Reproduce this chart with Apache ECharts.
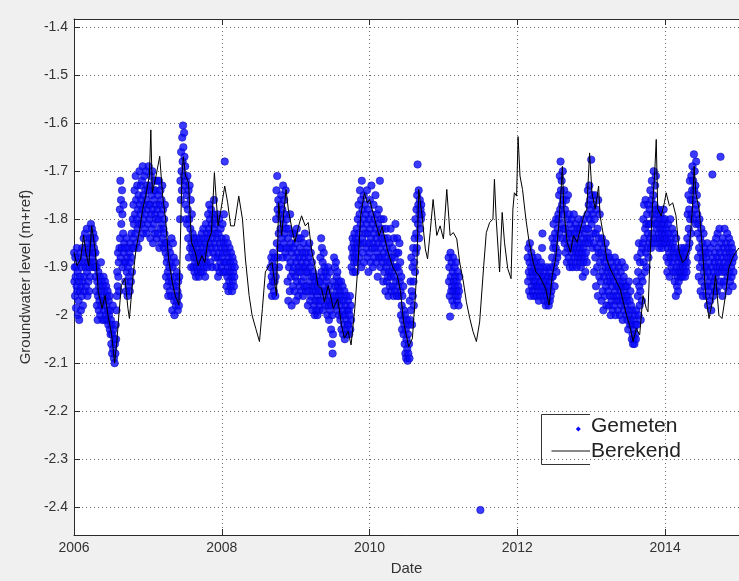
<!DOCTYPE html>
<html>
<head>
<meta charset="utf-8">
<script src="https://cdn.jsdelivr.net/npm/echarts@6/dist/echarts.min.js"></script>
<style>
  html, body { margin: 0; padding: 0; background: #f0f0f0; }
  #chart { width: 739px; height: 581px; }
</style>
</head>
<body>
<div id="chart"></div>
<script>
// Axis ranges and tick labels
const xRange = [2006, 2015];
const xTicks = [2006, 2008, 2010, 2012, 2014];
const yRange = [-2.458, -1.383];
const yTicks = [-1.4, -1.5, -1.6, -1.7, -1.8, -1.9, -2, -2.1, -2.2, -2.3, -2.4];

// Calculated groundwater level (decimal year, m+ref)
const berekend = [
  [2006.00,-1.869],[2006.04,-1.897],[2006.09,-1.883],[2006.13,-1.834],[2006.16,-1.869],[2006.20,-1.897],
  [2006.24,-1.814],[2006.29,-1.869],[2006.33,-1.952],[2006.38,-1.986],[2006.42,-1.959],[2006.46,-2.000],
  [2006.51,-2.041],[2006.55,-2.100],[2006.58,-2.055],[2006.60,-2.014],[2006.64,-1.938],[2006.69,-1.924],
  [2006.73,-1.986],[2006.75,-2.007],[2006.80,-1.917],[2006.84,-1.862],[2006.89,-1.821],[2006.93,-1.779],
  [2006.97,-1.752],[2007.02,-1.710],[2007.04,-1.614],[2007.06,-1.745],[2007.11,-1.710],[2007.16,-1.669],
  [2007.20,-1.752],[2007.24,-1.800],[2007.28,-1.883],[2007.33,-1.931],[2007.37,-1.959],[2007.42,-1.979],
  [2007.46,-1.710],[2007.48,-1.670],[2007.51,-1.710],[2007.55,-1.724],[2007.59,-1.848],[2007.64,-1.869],
  [2007.68,-1.897],[2007.73,-1.876],[2007.77,-1.890],[2007.81,-1.848],[2007.86,-1.828],[2007.90,-1.703],
  [2007.95,-1.814],[2007.99,-1.779],[2008.04,-1.731],[2008.08,-1.766],[2008.12,-1.814],[2008.17,-1.814],
  [2008.23,-1.752],[2008.28,-1.800],[2008.32,-1.883],[2008.37,-1.959],[2008.41,-2.000],[2008.46,-2.028],
  [2008.51,-2.055],[2008.55,-1.986],[2008.59,-1.910],[2008.64,-1.897],[2008.68,-1.890],[2008.74,-1.959],
  [2008.77,-1.766],[2008.81,-1.834],[2008.87,-1.738],[2008.90,-1.779],[2008.95,-1.821],[2008.99,-1.848],
  [2009.04,-1.814],[2009.08,-1.793],[2009.13,-1.814],[2009.17,-1.807],[2009.22,-1.869],[2009.26,-1.897],
  [2009.30,-1.938],[2009.35,-1.945],[2009.39,-1.972],[2009.44,-1.938],[2009.51,-1.986],[2009.57,-1.966],
  [2009.62,-2.021],[2009.66,-2.048],[2009.71,-2.034],[2009.75,-2.062],[2009.80,-1.986],[2009.84,-1.903],
  [2009.88,-1.793],[2009.93,-1.745],[2009.97,-1.766],[2010.00,-1.759],[2010.06,-1.794],[2010.13,-1.835],
  [2010.17,-1.815],[2010.24,-1.863],[2010.31,-1.898],[2010.375,-1.917],[2010.42,-1.952],[2010.46,-2.014],
  [2010.53,-2.066],[2010.58,-2.048],[2010.62,-1.959],[2010.64,-1.903],[2010.665,-1.738],[2010.71,-1.793],
  [2010.755,-1.862],[2010.785,-1.883],[2010.82,-1.828],[2010.86,-1.759],[2010.91,-1.834],[2010.955,-1.814],
  [2011.00,-1.841],[2011.045,-1.738],[2011.09,-1.834],[2011.134,-1.828],[2011.18,-1.841],[2011.22,-1.890],
  [2011.27,-1.931],[2011.31,-1.972],[2011.357,-2.007],[2011.40,-2.034],[2011.446,-2.055],[2011.49,-2.014],
  [2011.545,-1.897],[2011.58,-1.828],[2011.625,-1.807],[2011.67,-1.800],[2011.69,-1.717],[2011.714,-1.800],
  [2011.76,-1.910],[2011.795,-1.786],[2011.826,-1.848],[2011.87,-1.903],[2011.915,-1.924],[2011.94,-1.779],
  [2011.96,-1.745],[2011.99,-1.752],[2012.01,-1.628],[2012.036,-1.710],[2012.07,-1.738],[2012.116,-1.800],
  [2012.16,-1.848],[2012.205,-1.883],[2012.25,-1.910],[2012.295,-1.917],[2012.34,-1.931],[2012.384,-1.945],
  [2012.43,-1.979],[2012.473,-1.917],[2012.518,-1.883],[2012.56,-1.814],[2012.59,-1.745],[2012.61,-1.690],
  [2012.63,-1.779],[2012.674,-1.848],[2012.72,-1.869],[2012.76,-1.834],[2012.808,-1.848],[2012.853,-1.821],
  [2012.90,-1.793],[2012.94,-1.779],[2012.978,-1.662],[2013.01,-1.745],[2013.054,-1.779],[2013.10,-1.731],
  [2013.12,-1.793],[2013.165,-1.834],[2013.21,-1.883],[2013.255,-1.903],[2013.30,-1.917],[2013.344,-1.931],
  [2013.39,-1.945],[2013.433,-1.972],[2013.478,-2.000],[2013.52,-2.021],[2013.567,-2.055],[2013.61,-2.028],
  [2013.656,-2.041],[2013.70,-1.959],[2013.746,-1.986],[2013.768,-1.993],[2013.79,-1.903],[2013.826,-1.779],
  [2013.857,-1.710],[2013.88,-1.634],[2013.90,-1.779],[2013.947,-1.793],[2013.99,-1.766],[2014.014,-1.745],
  [2014.058,-1.772],[2014.103,-1.766],[2014.147,-1.793],[2014.19,-1.869],[2014.237,-1.890],[2014.28,-1.883],
  [2014.326,-1.862],[2014.37,-1.779],[2014.393,-1.690],[2014.415,-1.745],[2014.46,-1.779],[2014.505,-1.862],
  [2014.55,-1.959],[2014.594,-2.007],[2014.64,-1.972],[2014.683,-1.917],[2014.728,-2.000],[2014.77,-2.007],
  [2014.817,-1.959],[2014.86,-1.903],[2014.906,-1.883],[2014.95,-1.870],[2015.00,-1.860]
];

// Measured groundwater level, 2006 - mid 2008
const gemeten2006 = [
  [2006.002,-1.87],[2006.006,-1.93],[2006.010,-1.90],[2006.014,-1.96],[2006.018,-1.88],[2006.022,-1.92],[2006.027,-1.985],[2006.031,-1.90],[2006.035,-1.94],[2006.039,-1.86],
  [2006.044,-1.95],[2006.049,-1.91],[2006.053,-2.00],[2006.058,-1.88],[2006.062,-1.97],[2006.067,-1.93],[2006.071,-2.01],[2006.076,-1.89],[2006.080,-1.95],[2006.085,-1.92],[2006.089,-1.87],[2006.094,-1.99],[2006.098,-1.94],[2006.103,-1.90],[2006.108,-1.96],[2006.112,-1.86],[2006.117,-1.93],[2006.121,-1.98],[2006.126,-1.89],
  [2006.131,-1.84],[2006.135,-1.92],[2006.140,-1.88],[2006.145,-1.95],[2006.149,-1.83],[2006.154,-1.90],[2006.159,-1.86],[2006.163,-1.94],[2006.168,-1.87],[2006.173,-1.82],[2006.177,-1.91],[2006.182,-1.96],[2006.186,-1.85],[2006.191,-1.89],[2006.196,-1.93],[2006.200,-1.87],[2006.205,-1.95],[2006.210,-1.90],[2006.214,-1.84],[2006.219,-1.92],
  [2006.224,-1.86],[2006.229,-1.81],[2006.233,-1.89],[2006.238,-1.84],[2006.243,-1.82],[2006.247,-1.88],[2006.252,-1.85],[2006.257,-1.90],[2006.261,-1.83],[2006.266,-1.87],[2006.271,-1.86],[2006.276,-1.89],[2006.280,-1.84],[2006.285,-1.90],[2006.290,-1.87],[2006.295,-1.92],
  [2006.300,-1.95],[2006.305,-1.90],[2006.310,-1.98],[2006.315,-1.93],[2006.320,-2.01],[2006.325,-1.96],[2006.330,-1.91],[2006.335,-1.99],[2006.340,-1.94],[2006.345,-1.97],[2006.350,-1.92],[2006.355,-2.00],[2006.360,-1.95],[2006.365,-1.89],[2006.370,-1.98],[2006.375,-1.93],[2006.380,-1.96],[2006.385,-2.01],[2006.390,-1.94],[2006.395,-1.97],
  [2006.400,-1.92],[2006.405,-1.99],[2006.410,-1.95],[2006.415,-2.01],[2006.420,-1.93],[2006.425,-1.97],[2006.430,-2.00],[2006.435,-1.94],[2006.440,-1.98],[2006.445,-1.96],[2006.450,-2.01],[2006.455,-1.95],[2006.460,-1.99],[2006.465,-2.02],[2006.470,-1.97],[2006.475,-2.00],[2006.480,-1.96],[2006.485,-2.03],
  [2006.490,-1.99],[2006.495,-2.04],[2006.500,-2.01],[2006.505,-2.06],[2006.510,-2.02],[2006.515,-2.08],[2006.520,-2.04],[2006.525,-1.98],[2006.530,-2.07],[2006.535,-2.03],[2006.540,-2.09],[2006.545,-2.05],[2006.550,-2.10],[2006.555,-2.06],[2006.560,-2.08],[2006.565,-2.02],[2006.570,-2.05],[2006.575,-1.99],
  [2006.580,-1.96],[2006.585,-1.91],[2006.590,-1.94],[2006.595,-1.87],[2006.600,-1.92],[2006.605,-1.89],[2006.610,-1.95],[2006.615,-1.86],
  [2006.620,-1.78],[2006.624,-1.84],[2006.628,-1.72],[2006.632,-1.88],[2006.636,-1.76],[2006.640,-1.81],[2006.645,-1.86],[2006.650,-1.74],[2006.655,-1.79],[2006.660,-1.90],[2006.665,-1.83],[2006.670,-1.77],[2006.675,-1.87],[2006.680,-1.85],[2006.685,-1.89],
  [2006.690,-1.86],[2006.695,-1.93],[2006.700,-1.89],[2006.705,-1.95],[2006.710,-1.84],[2006.715,-1.91],[2006.720,-1.88],[2006.725,-1.96],[2006.730,-1.90],[2006.735,-1.86],[2006.740,-1.94],[2006.745,-1.92],[2006.750,-1.87],[2006.755,-1.95],[2006.760,-1.89],[2006.765,-1.85],[2006.770,-1.93],[2006.775,-1.88],[2006.780,-1.83],[2006.785,-1.91],[2006.790,-1.86],[2006.795,-1.80],
  [2006.800,-1.84],[2006.805,-1.77],[2006.810,-1.81],[2006.815,-1.86],[2006.820,-1.74],[2006.825,-1.79],[2006.830,-1.83],[2006.835,-1.71],[2006.840,-1.76],[2006.845,-1.85],[2006.850,-1.80],[2006.855,-1.73],[2006.860,-1.82],[2006.865,-1.78],[2006.870,-1.86],[2006.875,-1.75],[2006.880,-1.81],[2006.885,-1.70],[2006.890,-1.77],[2006.895,-1.84],[2006.900,-1.79],[2006.905,-1.73],
  [2006.910,-1.76],[2006.915,-1.81],[2006.920,-1.72],[2006.925,-1.78],[2006.930,-1.69],[2006.935,-1.83],[2006.940,-1.75],[2006.945,-1.80],[2006.950,-1.71],[2006.955,-1.77],[2006.960,-1.82],[2006.965,-1.74],[2006.970,-1.79],[2006.975,-1.70],[2006.980,-1.76],[2006.985,-1.83],[2006.990,-1.73],[2006.995,-1.78],[2007.000,-1.81],[2007.005,-1.74],[2007.010,-1.69],[2007.015,-1.77],
  [2007.020,-1.80],[2007.025,-1.73],[2007.030,-1.77],[2007.035,-1.84],[2007.040,-1.71],[2007.045,-1.79],[2007.050,-1.75],[2007.055,-1.82],[2007.060,-1.70],[2007.065,-1.78],[2007.070,-1.85],[2007.075,-1.74],[2007.080,-1.81],[2007.085,-1.76],[2007.090,-1.72],[2007.095,-1.83],[2007.100,-1.79],[2007.105,-1.74],[2007.110,-1.80],[2007.115,-1.77],[2007.120,-1.84],[2007.125,-1.72],
  [2007.130,-1.78],[2007.135,-1.83],[2007.140,-1.75],[2007.145,-1.80],[2007.150,-1.72],[2007.155,-1.86],[2007.160,-1.77],[2007.165,-1.82],[2007.170,-1.74],[2007.175,-1.79],[2007.180,-1.85],[2007.185,-1.76],[2007.190,-1.81],[2007.195,-1.73],[2007.200,-1.84],[2007.205,-1.78],[2007.210,-1.82],[2007.215,-1.86],[2007.220,-1.80],[2007.225,-1.83],[2007.230,-1.77],[2007.235,-1.85],
  [2007.240,-1.87],[2007.245,-1.92],[2007.250,-1.85],[2007.255,-1.89],[2007.260,-1.94],[2007.265,-1.88],[2007.270,-1.91],[2007.275,-1.96],[2007.280,-1.86],[2007.285,-1.93],[2007.290,-1.90],[2007.295,-1.95],[2007.300,-1.87],[2007.305,-1.92],[2007.310,-1.89],[2007.315,-1.96],[2007.320,-1.84],[2007.325,-1.93],
  [2007.330,-1.99],[2007.335,-1.90],[2007.340,-1.85],[2007.345,-1.94],[2007.350,-1.88],[2007.355,-1.97],[2007.360,-2.00],[2007.365,-1.92],[2007.370,-1.96],[2007.375,-1.89],[2007.380,-1.98],[2007.385,-1.94],[2007.390,-1.91],[2007.395,-1.97],[2007.400,-1.95],[2007.405,-1.99],[2007.410,-1.93],[2007.415,-1.96],[2007.420,-1.98],[2007.425,-1.92],
  [2007.435,-1.80],[2007.440,-1.72],[2007.445,-1.76],[2007.450,-1.66],[2007.455,-1.70],[2007.460,-1.74],[2007.465,-1.63],[2007.470,-1.68],[2007.475,-1.605],[2007.480,-1.65],[2007.485,-1.71],[2007.490,-1.62],[2007.495,-1.67],[2007.500,-1.73],[2007.505,-1.69],[2007.510,-1.77],[2007.515,-1.72],[2007.520,-1.80],[2007.525,-1.75],[2007.530,-1.81],
  [2007.535,-1.71],[2007.540,-1.78],[2007.545,-1.84],[2007.550,-1.74],[2007.555,-1.88],[2007.560,-1.80],[2007.565,-1.73],[2007.570,-1.86],[2007.575,-1.82],[2007.580,-1.76],[2007.585,-1.90],[2007.590,-1.85],[2007.595,-1.79],[2007.600,-1.87],[2007.605,-1.83],
  [2007.610,-1.86],[2007.615,-1.90],[2007.620,-1.84],[2007.625,-1.88],[2007.630,-1.91],[2007.635,-1.85],[2007.640,-1.89],[2007.645,-1.87],[2007.650,-1.92],[2007.655,-1.84],[2007.660,-1.88],[2007.665,-1.90],[2007.670,-1.86],[2007.675,-1.91],[2007.680,-1.85],[2007.685,-1.89],[2007.690,-1.92],[2007.695,-1.87],[2007.700,-1.84],[2007.705,-1.90],[2007.710,-1.88],[2007.715,-1.85],[2007.720,-1.91],[2007.725,-1.87],
  [2007.730,-1.83],[2007.735,-1.89],[2007.740,-1.86],[2007.745,-1.91],[2007.750,-1.82],[2007.755,-1.87],[2007.760,-1.90],[2007.765,-1.84],[2007.770,-1.88],[2007.775,-1.92],[2007.780,-1.85],[2007.785,-1.81],[2007.790,-1.89],[2007.795,-1.86],[2007.800,-1.83],[2007.805,-1.90],
  [2007.810,-1.84],[2007.815,-1.79],[2007.820,-1.87],[2007.825,-1.82],[2007.830,-1.77],[2007.835,-1.85],[2007.840,-1.80],[2007.845,-1.89],[2007.850,-1.83],[2007.855,-1.78],[2007.860,-1.86],[2007.865,-1.81],[2007.870,-1.90],[2007.875,-1.84],[2007.880,-1.79],[2007.885,-1.87],[2007.890,-1.82],[2007.895,-1.76],[2007.900,-1.85],[2007.905,-1.80],[2007.910,-1.88],[2007.915,-1.83],
  [2007.920,-1.86],[2007.925,-1.81],[2007.930,-1.90],[2007.935,-1.84],[2007.940,-1.79],[2007.945,-1.88],[2007.950,-1.92],[2007.955,-1.83],[2007.960,-1.87],[2007.965,-1.80],[2007.970,-1.91],[2007.975,-1.85],[2007.980,-1.89],[2007.985,-1.82],[2007.990,-1.86],[2007.995,-1.90],[2008.000,-1.84],[2008.005,-1.88],[2008.010,-1.81],[2008.015,-1.87],[2008.020,-1.91],[2008.025,-1.85],[2008.030,-1.79],[2008.035,-1.89],[2008.040,-1.68],
  [2008.045,-1.86],[2008.050,-1.91],[2008.055,-1.84],[2008.060,-1.89],[2008.065,-1.94],[2008.070,-1.87],[2008.075,-1.92],[2008.080,-1.85],[2008.085,-1.90],[2008.090,-1.95],[2008.095,-1.88],[2008.100,-1.93],[2008.105,-1.86],[2008.110,-1.91],[2008.115,-1.89],[2008.120,-1.94],[2008.125,-1.87],[2008.130,-1.92],[2008.135,-1.90],[2008.140,-1.95],[2008.145,-1.88],[2008.150,-1.93],[2008.155,-1.91],[2008.160,-1.89],[2008.165,-1.94],[2008.170,-1.92],[2008.175,-1.90]
];

// Measured groundwater level, autumn 2008 - summer 2010
const gemeten2008 = [
  [2008.660,-1.90],[2008.665,-1.94],[2008.670,-1.88],[2008.675,-1.92],[2008.680,-1.96],[2008.685,-1.89],[2008.690,-1.93],[2008.695,-1.87],[2008.700,-1.91],[2008.705,-1.95],[2008.710,-1.90],[2008.715,-1.93],[2008.720,-1.88],[2008.725,-1.96],[2008.730,-1.92],
  [2008.735,-1.80],[2008.740,-1.74],[2008.745,-1.85],[2008.750,-1.71],[2008.755,-1.78],[2008.760,-1.88],[2008.765,-1.76],[2008.770,-1.83],[2008.775,-1.90],[2008.780,-1.79],[2008.785,-1.86],
  [2008.790,-1.77],[2008.795,-1.82],[2008.800,-1.86],[2008.805,-1.75],[2008.810,-1.80],[2008.815,-1.84],[2008.820,-1.78],[2008.825,-1.88],[2008.830,-1.73],[2008.835,-1.81],[2008.840,-1.85],[2008.845,-1.76],[2008.850,-1.83],[2008.855,-1.79],[2008.860,-1.87],[2008.865,-1.74],[2008.870,-1.82],[2008.875,-1.86],
  [2008.880,-1.80],[2008.885,-1.88],[2008.890,-1.93],[2008.895,-1.84],[2008.900,-1.97],[2008.905,-1.82],[2008.910,-1.90],[2008.915,-1.86],[2008.920,-1.95],[2008.925,-1.79],[2008.930,-1.89],[2008.935,-1.92],[2008.940,-1.85],[2008.945,-1.98],[2008.950,-1.87],[2008.955,-1.83],[2008.960,-1.91],[2008.965,-1.94],
  [2008.970,-1.86],[2008.975,-1.90],[2008.980,-1.83],[2008.985,-1.95],[2008.990,-1.88],[2008.995,-1.92],[2009.000,-1.85],[2009.005,-1.97],[2009.010,-1.89],[2009.015,-1.82],[2009.020,-1.93],[2009.025,-1.87],[2009.030,-1.91],[2009.035,-1.96],[2009.040,-1.84],[2009.045,-1.90],[2009.050,-1.88],[2009.055,-1.94],
  [2009.060,-1.86],[2009.065,-1.91],[2009.070,-1.84],[2009.075,-1.95],[2009.080,-1.89],[2009.085,-1.93],[2009.090,-1.87],[2009.095,-1.90],[2009.100,-1.96],[2009.105,-1.85],[2009.110,-1.92],[2009.115,-1.88],[2009.120,-1.94],[2009.125,-1.83],[2009.130,-1.90],[2009.135,-1.87],[2009.140,-1.95],[2009.145,-1.91],
  [2009.150,-1.89],[2009.155,-1.94],[2009.160,-1.86],[2009.165,-1.98],[2009.170,-1.91],[2009.175,-1.88],[2009.180,-1.95],[2009.185,-1.85],[2009.190,-1.93],[2009.195,-1.97],[2009.200,-1.90],[2009.205,-1.87],[2009.210,-1.96],[2009.215,-1.92],[2009.220,-1.89],[2009.225,-1.99],[2009.230,-1.94],[2009.235,-1.91],
  [2009.240,-1.95],[2009.245,-1.92],[2009.250,-1.98],[2009.255,-1.94],[2009.260,-2.00],[2009.265,-1.93],[2009.270,-1.97],[2009.275,-1.95],[2009.280,-1.99],[2009.285,-1.92],[2009.290,-1.96],[2009.295,-2.00],[2009.300,-1.94],[2009.305,-1.97],[2009.310,-1.93],[2009.315,-1.99],[2009.320,-1.95],[2009.325,-1.98],
  [2009.330,-1.93],[2009.335,-1.88],[2009.340,-1.97],[2009.345,-1.84],[2009.350,-1.91],[2009.355,-1.86],[2009.360,-1.95],[2009.365,-1.89],[2009.370,-1.99],[2009.375,-1.92],[2009.380,-1.87],[2009.385,-1.96],[2009.390,-1.90],[2009.395,-1.94],[2009.400,-1.98],[2009.405,-1.91],[2009.410,-1.95],[2009.415,-1.93],
  [2009.420,-1.97],[2009.425,-1.92],[2009.430,-2.00],[2009.435,-1.95],[2009.440,-1.90],[2009.445,-1.98],[2009.450,-2.01],[2009.455,-1.94],[2009.460,-1.97],[2009.465,-1.91],[2009.470,-1.99],[2009.475,-1.96],[2009.480,-2.03],[2009.485,-1.98],[2009.490,-2.06],[2009.495,-2.00],[2009.500,-2.08],[2009.505,-2.04],[2009.510,-1.97],
  [2009.515,-1.93],[2009.520,-1.88],[2009.525,-1.96],[2009.530,-1.90],[2009.535,-1.94],[2009.540,-1.98],[2009.545,-1.89],[2009.550,-1.95],[2009.555,-1.92],[2009.560,-1.97],[2009.565,-1.91],[2009.570,-1.99],[2009.575,-1.94],[2009.580,-1.96],[2009.585,-1.93],[2009.590,-2.00],[2009.595,-1.97],
  [2009.600,-1.95],[2009.605,-2.01],[2009.610,-1.98],[2009.615,-1.93],[2009.620,-2.03],[2009.625,-1.96],[2009.630,-2.00],[2009.635,-1.94],[2009.640,-2.04],[2009.645,-1.99],[2009.650,-1.97],[2009.655,-2.02],[2009.660,-1.95],[2009.665,-2.05],[2009.670,-2.00],[2009.675,-1.98],[2009.680,-2.03],[2009.685,-1.96],[2009.690,-2.01],[2009.695,-2.04],[2009.700,-1.99],[2009.705,-2.02],
  [2009.710,-1.97],[2009.715,-2.02],[2009.720,-1.99],[2009.725,-2.04],[2009.730,-2.00],[2009.735,-1.96],[2009.740,-2.03],[2009.745,-1.98],[2009.750,-2.01],
  [2009.755,-1.90],[2009.760,-1.86],[2009.765,-1.88],[2009.770,-1.84],[2009.775,-1.91],[2009.780,-1.87],[2009.785,-1.85],[2009.790,-1.89],[2009.795,-1.83],[2009.800,-1.88],[2009.805,-1.86],[2009.810,-1.91],[2009.815,-1.84],[2009.820,-1.87],[2009.825,-1.82],[2009.830,-1.89],[2009.835,-1.85],
  [2009.840,-1.80],[2009.845,-1.86],[2009.850,-1.77],[2009.855,-1.83],[2009.860,-1.88],[2009.865,-1.79],[2009.870,-1.74],[2009.875,-1.85],[2009.880,-1.81],[2009.885,-1.76],[2009.890,-1.90],[2009.895,-1.72],[2009.900,-1.84],[2009.905,-1.78],[2009.910,-1.87],[2009.915,-1.82],[2009.920,-1.75],[2009.925,-1.89],[2009.930,-1.80],[2009.935,-1.85],[2009.940,-1.77],[2009.945,-1.83],
  [2009.950,-1.79],[2009.955,-1.86],[2009.960,-1.81],[2009.965,-1.74],[2009.970,-1.88],[2009.975,-1.83],[2009.980,-1.78],[2009.985,-1.91],[2009.990,-1.85],[2009.995,-1.80],[2010.000,-1.87],[2010.005,-1.76],[2010.010,-1.82],[2010.015,-1.89],[2010.020,-1.84],[2010.025,-1.73],[2010.030,-1.79],[2010.035,-1.86],[2010.040,-1.81],[2010.045,-1.90],[2010.050,-1.85],[2010.055,-1.77],
  [2010.060,-1.83],[2010.065,-1.88],[2010.070,-1.80],[2010.075,-1.86],[2010.080,-1.75],[2010.085,-1.82],[2010.090,-1.89],[2010.095,-1.84],[2010.100,-1.79],[2010.105,-1.87],[2010.110,-1.92],[2010.115,-1.81],[2010.120,-1.85],[2010.125,-1.78],[2010.130,-1.88],[2010.135,-1.83],[2010.140,-1.72],[2010.145,-1.86],[2010.150,-1.90],[2010.155,-1.80],[2010.160,-1.84],[2010.165,-1.88],
  [2010.170,-1.82],[2010.175,-1.89],[2010.180,-1.85],[2010.185,-1.93],[2010.190,-1.80],[2010.195,-1.87],[2010.200,-1.91],[2010.205,-1.84],[2010.210,-1.88],[2010.215,-1.95],[2010.220,-1.82],[2010.225,-1.90],[2010.230,-1.86],[2010.235,-1.93],[2010.240,-1.89],[2010.245,-1.84],[2010.250,-1.92],[2010.255,-1.96],[2010.260,-1.87],[2010.265,-1.91],
  [2010.270,-1.85],[2010.275,-1.94],[2010.280,-1.89],[2010.285,-1.82],[2010.290,-1.92],[2010.295,-1.95],[2010.300,-1.88],[2010.305,-1.91],[2010.310,-1.86],[2010.315,-1.94],[2010.320,-1.90],[2010.325,-1.96],[2010.330,-1.84],[2010.335,-1.92],[2010.340,-1.88],[2010.345,-1.95],[2010.350,-1.81],[2010.355,-1.90],[2010.360,-1.93],[2010.365,-1.87],[2010.370,-1.96],
  [2010.375,-1.84],[2010.380,-1.90],[2010.385,-1.94],[2010.390,-1.87],[2010.395,-1.96],[2010.400,-1.91],[2010.405,-1.85],[2010.410,-1.93],[2010.415,-1.89],
  [2010.420,-1.95],[2010.425,-2.00],[2010.430,-1.92],[2010.435,-1.98],[2010.440,-2.03],[2010.445,-1.96],[2010.450,-2.01],[2010.455,-1.94],[2010.460,-2.04],[2010.465,-1.99],[2010.470,-2.02],
  [2010.475,-2.06],[2010.480,-2.00],[2010.485,-2.08],[2010.490,-2.03],[2010.495,-2.09],[2010.500,-2.05],[2010.505,-2.01],[2010.510,-2.07],[2010.515,-2.095],[2010.520,-2.04],[2010.525,-2.08],[2010.530,-2.02],[2010.535,-2.06],[2010.540,-2.09],
  [2010.545,-1.97],[2010.550,-2.01],[2010.555,-1.93],[2010.560,-1.99],[2010.565,-1.88],[2010.570,-1.95],[2010.575,-2.02],[2010.580,-1.90],[2010.585,-1.96],[2010.590,-1.86],[2010.595,-1.93],[2010.600,-1.98],
  [2010.605,-1.89],[2010.610,-1.84],[2010.615,-1.91],[2010.620,-1.80],[2010.625,-1.87],[2010.630,-1.83],[2010.635,-1.78],[2010.640,-1.86],[2010.645,-1.75],[2010.650,-1.686],[2010.655,-1.81],[2010.660,-1.77],[2010.665,-1.74],[2010.670,-1.84],[2010.675,-1.79],[2010.680,-1.76],[2010.685,-1.82],[2010.690,-1.78],[2010.695,-1.80],[2010.700,-1.77],[2010.705,-1.79]
];

// Measured groundwater level, 2011
const gemeten2011 = [
  [2011.070,-1.88],[2011.075,-1.93],[2011.080,-1.90],[2011.085,-1.96],[2011.090,-2.003],[2011.095,-1.87],[2011.100,-1.92],[2011.105,-1.95],[2011.110,-1.89],[2011.115,-1.94],
  [2011.120,-1.97],[2011.125,-1.91],[2011.130,-1.88],[2011.135,-1.95],[2011.140,-1.93],[2011.145,-1.98],[2011.150,-1.90],[2011.155,-1.94],[2011.160,-1.92],[2011.165,-1.96],
  [2011.170,-1.89],[2011.175,-1.95],[2011.180,-1.93],[2011.185,-1.97],[2011.190,-1.91],[2011.195,-1.96],[2011.200,-1.94],[2011.205,-1.98],[2011.210,-1.95],[2011.215,-1.92],
  [2011.500,-2.406]
];

// Measured groundwater level, 2012 - 2014
const gemeten2012 = [
  [2012.140,-1.88],[2012.145,-1.93],[2012.150,-1.86],[2012.155,-1.91],[2012.160,-1.95],[2012.165,-1.89],[2012.170,-1.85],[2012.175,-1.92],[2012.180,-1.96],[2012.185,-1.90],[2012.190,-1.87],[2012.195,-1.94],[2012.200,-1.91],[2012.205,-1.88],[2012.210,-1.95],[2012.215,-1.92],[2012.220,-1.89],[2012.225,-1.96],[2012.230,-1.93],[2012.235,-1.90],[2012.240,-1.94],[2012.245,-1.91],
  [2012.250,-1.93],[2012.255,-1.89],[2012.260,-1.96],[2012.265,-1.91],[2012.270,-1.94],[2012.275,-1.88],[2012.280,-1.95],[2012.285,-1.92],[2012.290,-1.97],[2012.295,-1.90],[2012.300,-1.94],[2012.305,-1.91],[2012.310,-1.96],[2012.315,-1.93],[2012.320,-1.89],[2012.325,-1.95],[2012.330,-1.92],[2012.335,-1.86],
  [2012.340,-1.83],[2012.345,-1.94],[2012.350,-1.90],[2012.355,-1.96],[2012.360,-1.92],[2012.365,-1.97],[2012.370,-1.93],[2012.375,-1.91],[2012.380,-1.95],[2012.385,-1.98],[2012.390,-1.93],[2012.395,-1.96],[2012.400,-1.90],[2012.405,-1.94],[2012.410,-1.97],[2012.415,-1.92],[2012.420,-1.95],[2012.425,-1.98],
  [2012.430,-1.94],[2012.435,-1.91],[2012.440,-1.97],[2012.445,-1.93],[2012.450,-1.96],[2012.455,-1.90],[2012.460,-1.95],[2012.465,-1.92],
  [2012.470,-1.88],[2012.475,-1.84],[2012.480,-1.92],[2012.485,-1.86],[2012.490,-1.81],[2012.495,-1.90],[2012.500,-1.85],[2012.505,-1.94],[2012.510,-1.83],[2012.515,-1.89],[2012.520,-1.86],[2012.525,-1.80],[2012.530,-1.91],[2012.535,-1.84],[2012.540,-1.88],[2012.545,-1.82],[2012.550,-1.87],[2012.555,-1.79],
  [2012.560,-1.80],[2012.565,-1.75],[2012.570,-1.83],[2012.575,-1.71],[2012.580,-1.78],[2012.585,-1.68],[2012.590,-1.74],[2012.595,-1.81],[2012.600,-1.72],[2012.605,-1.77],[2012.610,-1.84],[2012.615,-1.70],[2012.620,-1.76],[2012.625,-1.82],[2012.630,-1.79],[2012.635,-1.74],[2012.640,-1.85],[2012.645,-1.78],
  [2012.650,-1.82],[2012.655,-1.87],[2012.660,-1.76],[2012.665,-1.84],[2012.670,-1.89],[2012.675,-1.80],[2012.680,-1.86],[2012.685,-1.75],[2012.690,-1.83],[2012.695,-1.88],[2012.700,-1.79],[2012.705,-1.85],[2012.710,-1.90],[2012.715,-1.81],
  [2012.720,-1.86],[2012.725,-1.83],[2012.730,-1.89],[2012.735,-1.80],[2012.740,-1.87],[2012.745,-1.84],[2012.750,-1.90],[2012.755,-1.82],[2012.760,-1.86],[2012.765,-1.79],[2012.770,-1.88],[2012.775,-1.85],[2012.780,-1.83],[2012.785,-1.89],[2012.790,-1.81],[2012.795,-1.87],[2012.800,-1.84],[2012.805,-1.90],[2012.810,-1.86],[2012.815,-1.82],[2012.820,-1.88],[2012.825,-1.85],[2012.830,-1.80],[2012.835,-1.87],[2012.840,-1.83],[2012.845,-1.89],
  [2012.850,-1.86],[2012.855,-1.82],[2012.860,-1.90],[2012.865,-1.85],[2012.870,-1.88],[2012.875,-1.81],[2012.880,-1.87],[2012.885,-1.92],[2012.890,-1.84],[2012.895,-1.89],[2012.900,-1.86],[2012.905,-1.80],[2012.910,-1.88],[2012.915,-1.83],[2012.920,-1.91],[2012.925,-1.85],[2012.930,-1.87],[2012.935,-1.82],[2012.940,-1.89],[2012.945,-1.84],
  [2012.950,-1.79],[2012.955,-1.74],[2012.960,-1.82],[2012.965,-1.77],[2012.970,-1.85],[2012.975,-1.73],[2012.980,-1.80],[2012.985,-1.76],[2012.990,-1.84],[2012.995,-1.78],[2013.000,-1.676],[2013.005,-1.81],[2013.010,-1.75],[2013.015,-1.86],[2013.020,-1.79],[2013.025,-1.83],
  [2013.030,-1.77],[2013.035,-1.85],[2013.040,-1.91],[2013.045,-1.80],[2013.050,-1.75],[2013.055,-1.88],[2013.060,-1.83],[2013.065,-1.94],[2013.070,-1.78],[2013.075,-1.86],[2013.080,-1.90],[2013.085,-1.82],[2013.090,-1.96],[2013.095,-1.76],[2013.100,-1.87],[2013.105,-1.84],[2013.110,-1.92],[2013.115,-1.79],
  [2013.120,-1.89],[2013.125,-1.85],[2013.130,-1.93],[2013.135,-1.87],[2013.140,-1.97],[2013.145,-1.84],[2013.150,-1.91],[2013.155,-1.95],[2013.160,-1.88],[2013.165,-1.99],[2013.170,-1.86],[2013.175,-1.92],[2013.180,-1.89],[2013.185,-1.96],[2013.190,-1.90],[2013.195,-1.85],[2013.200,-1.94],[2013.205,-1.98],[2013.210,-1.88],[2013.215,-1.93],[2013.220,-1.91],[2013.225,-1.87],
  [2013.230,-1.95],[2013.235,-1.90],[2013.240,-1.98],[2013.245,-1.92],[2013.250,-1.88],[2013.255,-1.96],[2013.260,-1.93],[2013.265,-2.00],[2013.270,-1.91],[2013.275,-1.97],[2013.280,-1.89],[2013.285,-1.94],[2013.290,-1.99],[2013.295,-1.92],[2013.300,-1.96],[2013.305,-1.90],[2013.310,-1.98],[2013.315,-1.93],[2013.320,-1.88],[2013.325,-1.95],[2013.330,-2.00],[2013.335,-1.91],[2013.340,-1.97],[2013.345,-1.94],[2013.350,-1.89],[2013.355,-1.96],[2013.360,-1.92],[2013.365,-1.99],
  [2013.370,-1.94],[2013.375,-1.90],[2013.380,-1.97],[2013.385,-1.93],[2013.390,-2.00],[2013.395,-1.95],[2013.400,-1.91],[2013.405,-1.98],[2013.410,-1.94],[2013.415,-1.89],[2013.420,-1.96],[2013.425,-2.01],[2013.430,-1.93],[2013.435,-1.97],[2013.440,-1.92],[2013.445,-1.99],[2013.450,-1.95],[2013.455,-1.90],[2013.460,-1.98],[2013.465,-1.94],[2013.470,-2.00],[2013.475,-1.96],
  [2013.480,-1.97],[2013.485,-1.94],[2013.490,-2.01],[2013.495,-1.96],[2013.500,-2.03],[2013.505,-1.99],[2013.510,-1.93],[2013.515,-2.00],[2013.520,-1.97],[2013.525,-2.02],[2013.530,-1.95],[2013.535,-2.01],[2013.540,-1.98],
  [2013.545,-2.02],[2013.550,-2.05],[2013.555,-1.99],[2013.560,-2.04],[2013.565,-2.06],[2013.570,-2.01],[2013.575,-2.05],[2013.580,-2.03],[2013.585,-2.06],[2013.590,-2.00],[2013.595,-2.04],[2013.600,-2.02],[2013.605,-2.05],
  [2013.610,-1.99],[2013.615,-1.93],[2013.620,-2.02],[2013.625,-1.88],[2013.630,-1.96],[2013.635,-1.91],[2013.640,-2.00],[2013.645,-1.85],[2013.650,-1.94],[2013.655,-1.98],[2013.660,-1.89],[2013.665,-1.95],[2013.670,-2.01],[2013.675,-1.87],[2013.680,-1.92],[2013.685,-1.97],[2013.690,-1.86],[2013.695,-1.93],
  [2013.700,-1.85],[2013.705,-1.80],[2013.710,-1.89],[2013.715,-1.77],[2013.720,-1.84],[2013.725,-1.91],[2013.730,-1.82],[2013.735,-1.76],[2013.740,-1.87],[2013.745,-1.81],[2013.750,-1.90],[2013.755,-1.79],[2013.760,-1.86],[2013.765,-1.83],[2013.770,-1.77],[2013.775,-1.88],[2013.780,-1.81],[2013.785,-1.85],
  [2013.790,-1.78],[2013.795,-1.84],[2013.800,-1.74],[2013.805,-1.81],[2013.810,-1.86],[2013.815,-1.76],[2013.820,-1.72],[2013.825,-1.83],[2013.830,-1.79],[2013.835,-1.85],[2013.840,-1.75],[2013.845,-1.70],[2013.850,-1.80],[2013.855,-1.77],[2013.860,-1.84],[2013.865,-1.73],[2013.870,-1.81],[2013.875,-1.71],[2013.880,-1.78],
  [2013.885,-1.82],[2013.890,-1.79],[2013.895,-1.85],[2013.900,-1.81],[2013.905,-1.84],[2013.910,-1.78],[2013.915,-1.83],[2013.920,-1.86],[2013.925,-1.80],[2013.930,-1.84],[2013.935,-1.82],[2013.940,-1.79],[2013.945,-1.85],[2013.950,-1.81],[2013.955,-1.83],[2013.960,-1.86],[2013.965,-1.80],[2013.970,-1.84],[2013.975,-1.82],[2013.980,-1.78],[2013.985,-1.85],[2013.990,-1.81],[2013.995,-1.84],[2014.000,-1.80],[2014.005,-1.83],
  [2014.010,-1.85],[2014.015,-1.82],[2014.020,-1.88],[2014.025,-1.84],[2014.030,-1.91],[2014.035,-1.86],[2014.040,-1.81],[2014.045,-1.89],[2014.050,-1.83],[2014.055,-1.87],[2014.060,-1.92],[2014.065,-1.85],[2014.070,-1.80],[2014.075,-1.88],[2014.080,-1.84],[2014.085,-1.90],[2014.090,-1.86],[2014.095,-1.82],[2014.100,-1.89],[2014.105,-1.85],[2014.110,-1.91],[2014.115,-1.87],[2014.120,-1.83],
  [2014.125,-1.88],[2014.130,-1.93],[2014.135,-1.86],[2014.140,-1.91],[2014.145,-1.96],[2014.150,-1.84],[2014.155,-1.90],[2014.160,-1.94],[2014.165,-1.87],[2014.170,-1.92],[2014.175,-1.95],[2014.180,-1.89],[2014.185,-1.93],
  [2014.190,-1.88],[2014.195,-1.91],[2014.200,-1.87],[2014.205,-1.90],[2014.210,-1.92],[2014.215,-1.88],[2014.220,-1.86],[2014.225,-1.91],[2014.230,-1.89],[2014.235,-1.92],[2014.240,-1.87],[2014.245,-1.90],[2014.250,-1.88],[2014.255,-1.91],[2014.260,-1.86],[2014.265,-1.89],[2014.270,-1.92],[2014.275,-1.88],[2014.280,-1.90],[2014.285,-1.87],[2014.290,-1.91],[2014.295,-1.89],
  [2014.300,-1.84],[2014.305,-1.79],[2014.310,-1.86],[2014.315,-1.75],[2014.320,-1.82],[2014.325,-1.78],[2014.330,-1.85],[2014.335,-1.72],[2014.340,-1.80],[2014.345,-1.76],[2014.350,-1.83],[2014.355,-1.71],[2014.360,-1.79],[2014.365,-1.74],
  [2014.370,-1.69],[2014.375,-1.76],[2014.380,-1.72],[2014.385,-1.80],[2014.390,-1.665],[2014.395,-1.74],[2014.400,-1.70],[2014.405,-1.78],[2014.410,-1.73],[2014.415,-1.81],[2014.420,-1.68],[2014.425,-1.77],[2014.430,-1.75],[2014.435,-1.79],
  [2014.440,-1.83],[2014.445,-1.88],[2014.450,-1.81],[2014.455,-1.92],[2014.460,-1.86],[2014.465,-1.80],[2014.470,-1.90],[2014.475,-1.84],[2014.480,-1.95],[2014.485,-1.87],[2014.490,-1.82],[2014.495,-1.93],[2014.500,-1.89],[2014.505,-1.85],[2014.510,-1.96],[2014.515,-1.88],[2014.520,-1.83],[2014.525,-1.91],[2014.530,-1.86],[2014.535,-1.94],[2014.540,-1.90],[2014.545,-1.87],
  [2014.550,-1.92],[2014.555,-1.88],[2014.560,-1.96],[2014.565,-1.90],[2014.570,-1.85],[2014.575,-1.94],[2014.580,-1.98],[2014.585,-1.91],[2014.590,-1.87],[2014.595,-1.95],[2014.600,-1.89],[2014.605,-1.93],[2014.610,-1.97],[2014.615,-1.86],[2014.620,-1.92],[2014.625,-1.99],[2014.630,-1.90],[2014.635,-1.94],[2014.640,-1.707],[2014.645,-1.88],[2014.650,-1.96],[2014.655,-1.91],[2014.660,-1.85],[2014.665,-1.93],[2014.670,-1.89],[2014.675,-1.95],
  [2014.680,-1.87],[2014.685,-1.92],[2014.690,-1.84],[2014.695,-1.90],[2014.700,-1.95],[2014.705,-1.88],[2014.710,-1.83],[2014.715,-1.91],[2014.720,-1.86],[2014.725,-1.94],[2014.730,-1.89],[2014.735,-1.82],[2014.740,-1.90],[2014.745,-1.87],[2014.750,-1.67],[2014.755,-1.93],[2014.760,-1.85],[2014.765,-1.91],[2014.770,-1.88],[2014.775,-1.96],
  [2014.780,-1.84],[2014.785,-1.90],[2014.790,-1.86],[2014.795,-1.93],[2014.800,-1.89],[2014.805,-1.82],[2014.810,-1.91],[2014.815,-1.87],[2014.820,-1.94],[2014.825,-1.85],[2014.830,-1.90],[2014.835,-1.88],[2014.840,-1.83],[2014.845,-1.92],[2014.850,-1.86],[2014.855,-1.95],[2014.860,-1.89],[2014.865,-1.84],[2014.870,-1.91],[2014.875,-1.87],
  [2014.880,-1.93],[2014.885,-1.88],[2014.890,-1.85],[2014.895,-1.90],[2014.900,-1.92],[2014.905,-1.86],[2014.910,-1.89],[2014.915,-1.94],[2014.920,-1.87],[2014.925,-1.91],[2014.930,-1.88]
];

const gemeten = gemeten2006.concat(gemeten2008, gemeten2011, gemeten2012);

const FONT = '"Liberation Sans", Arial, Helvetica, sans-serif';
const AXIS_COLOR = '#2b2b2b';
const GRID_STYLE = { color: '#6a6a6a', width: 1, type: [1, 3] };
const BLUE = '#0a0aff';

function isTick(list, v) {
  return list.some(t => Math.abs(t - v) < 1e-6);
}

const chart = echarts.init(document.getElementById('chart'), null, { renderer: 'canvas' });

chart.setOption({
  animation: false,
  backgroundColor: '#f0f0f0',
  grid: {
    left: 74, top: 19, right: -6, bottom: 44,
    show: true, backgroundColor: '#ffffff', borderWidth: 0
  },
  xAxis: [{
    type: 'value',
    min: xRange[0], max: xRange[1], interval: 2,
    name: 'Date', nameLocation: 'middle', nameGap: 26,
    nameTextStyle: { fontFamily: FONT, fontSize: 15, color: '#333' },
    axisLine: { show: true, onZero: false, lineStyle: { color: AXIS_COLOR, width: 1 } },
    axisTick: { show: true, inside: true, length: 6, lineStyle: { color: AXIS_COLOR } },
    axisLabel: {
      margin: 6, fontFamily: FONT, fontSize: 14, color: '#333',
      showMaxLabel: false,
      formatter: v => isTick(xTicks, v) ? String(Math.round(v)) : ''
    },
    splitLine: { show: true, lineStyle: GRID_STYLE }
  }, {
    type: 'value', position: 'top',
    min: xRange[0], max: xRange[1], interval: 2,
    axisLine: { show: true, onZero: false, lineStyle: { color: AXIS_COLOR, width: 1 } },
    axisTick: { show: true, inside: true, length: 6, lineStyle: { color: AXIS_COLOR } },
    axisLabel: { show: false },
    splitLine: { show: false }
  }],
  yAxis: {
    type: 'value',
    min: yRange[0], max: yRange[1],
    minInterval: 0.1, maxInterval: 0.1, splitNumber: 10,
    name: 'Groundwater level (m+ref)', nameLocation: 'middle', nameGap: 41,
    nameTextStyle: { fontFamily: FONT, fontSize: 15, color: '#333' },
    axisLine: { show: true, onZero: false, lineStyle: { color: AXIS_COLOR, width: 1 } },
    axisTick: { show: true, inside: true, length: 6, lineStyle: { color: AXIS_COLOR } },
    axisLabel: {
      margin: 6, fontFamily: FONT, fontSize: 14, color: '#333',
      showMinLabel: false, showMaxLabel: false,
      formatter: v => isTick(yTicks, v) ? String(Math.round(v * 10) / 10) : ''
    },
    splitLine: { show: true, lineStyle: GRID_STYLE }
  },
  series: [{
    name: 'Gemeten',
    type: 'scatter',
    data: gemeten,
    symbol: 'circle',
    symbolSize: 7.5,
    itemStyle: { color: BLUE, borderColor: '#0000b4', borderWidth: 0.6 },
    z: 2
  }, {
    name: 'Berekend',
    type: 'line',
    data: berekend,
    showSymbol: false,
    symbol: 'none',
    lineStyle: { color: '#000000', width: 1 },
    z: 3
  }],
  graphic: [{
    type: 'group',
    z: 100,
    children: [
      { type: 'rect', shape: { x: 541.5, y: 414.5, width: 186, height: 50 },
        style: { fill: '#ffffff', stroke: null } },
      { type: 'polyline',
        shape: { points: [[590, 414.5], [541.5, 414.5], [541.5, 464.5], [590, 464.5]] },
        style: { stroke: '#333', lineWidth: 1, fill: null } },
      { type: 'polygon',
        shape: { points: [[578.3, 426.5], [580.8, 429], [578.3, 431.5], [575.8, 429]] },
        style: { fill: BLUE } },
      { type: 'line', shape: { x1: 551.5, y1: 451, x2: 590, y2: 451 },
        style: { stroke: '#111', lineWidth: 1 } },
      { type: 'text', x: 591, y: 426,
        style: { text: 'Gemeten', font: '21px ' + FONT, fill: '#222',
                 textAlign: 'left', textVerticalAlign: 'middle' } },
      { type: 'text', x: 591, y: 451,
        style: { text: 'Berekend', font: '21px ' + FONT, fill: '#222',
                 textAlign: 'left', textVerticalAlign: 'middle' } }
    ]
  }]
});
</script>
</body>
</html>
